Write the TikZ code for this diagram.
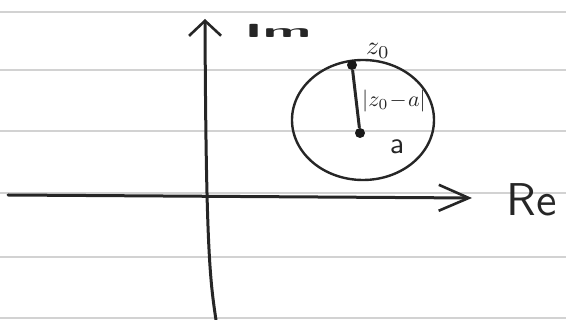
\documentclass[tikz,border=0pt]{standalone}
\usetikzlibrary{arrows.meta}

\tikzset{
  paperline/.style={gray!35, line width=1.2pt},
  axisline/.style={black!85, line width=3pt, line cap=round},
  pen/.style={black!85, line width=2.4pt},
  handlabel/.style={black!85, font=\sffamily, inner sep=0pt},
  dotpoint/.style={circle, fill=black!90, inner sep=0pt, minimum size=10pt},
}

\begin{document}
\begin{tikzpicture}[x=1pt,y=1pt,yscale=-1,xscale=1]
\useasboundingbox (0,0) rectangle (566,320);

% ruled paper
\foreach \y in {12,70,131,193,257,318}
  \draw [paperline] (0,\y) -- (566,\y);

% axes
\coordinate (imbot) at (216,320);
\coordinate (imtop) at (205,19);
\coordinate (releft) at (8,195);
\coordinate (reright) at (472,198);

\draw [axisline, -{Straight Barb[length=15pt,width=32pt,line width=2.6pt]}]
  (imbot) .. controls (210,280) and (206,250) .. (imtop);
\draw [axisline, -{Straight Barb[length=30pt,width=26pt,line width=2.6pt]}]
  (releft) -- (reright);

\node [handlabel, font=\sffamily\bfseries, xscale=5.6, yscale=1.9] (imlabel) at (278,31) {Im};
\node [handlabel, scale=4.6] (relabel) at (532,200) {Re};

% disc round a through z0
\draw [pen] (363,120) ellipse [x radius=71, y radius=60];
\node [dotpoint] (a) at (360,133) {};
\node [dotpoint] (zzero) at (352,65) {};
\draw [pen, line width=3pt] (a) -- (zzero);

\node [handlabel, scale=2.6] (zlabel) at (378,51) {$z_0$};
\node [handlabel, scale=2.2] (rlabel) at (394,101) {$|z_0\!-\!a|$};
\node [handlabel, scale=3] (alabel) at (397,147) {a};

\end{tikzpicture}
\end{document}
